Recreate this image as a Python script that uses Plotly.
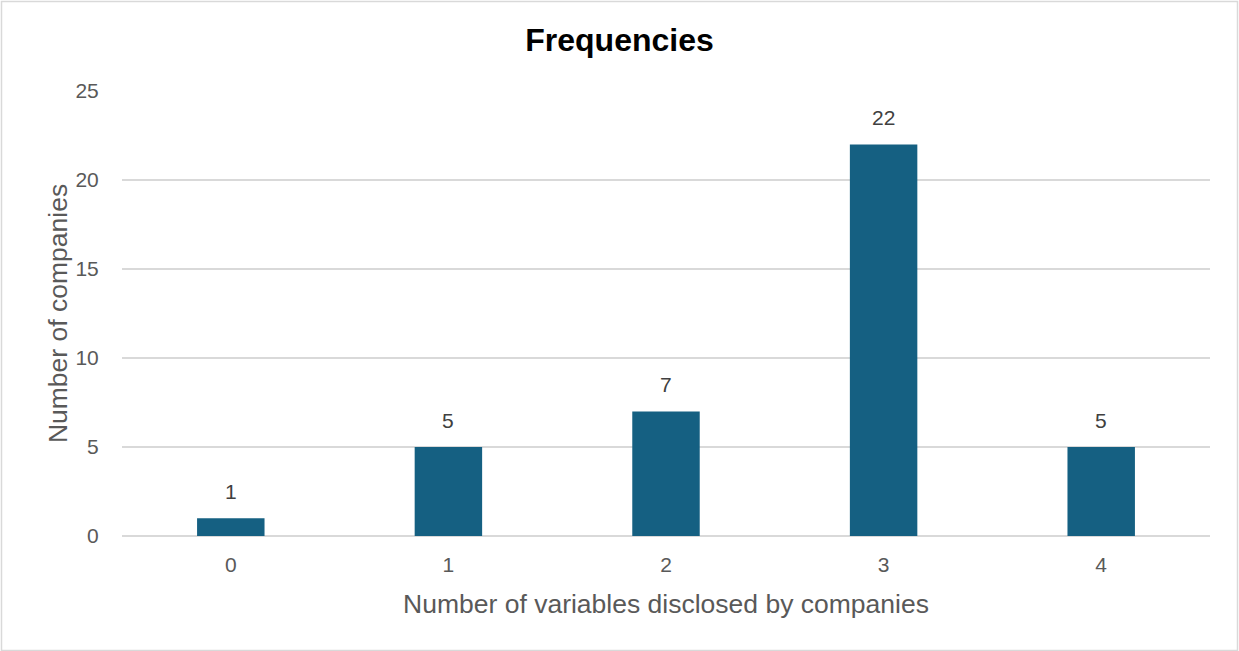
import plotly.graph_objects as go

categories = ["0", "1", "2", "3", "4"]
counts = [1, 5, 7, 22, 5]
y_ticks = [0, 5, 10, 15, 20, 25]

W, H = 1239, 651
ML, MR, MT, MB = 122, 29, 91, 115

fig = go.Figure()
fig.add_trace(go.Bar(
    x=categories, y=counts, width=0.31,
    marker=dict(color="#156082", line=dict(width=0)),
    hoverinfo="x+y",
))

for c, v in zip(categories, counts):
    fig.add_annotation(x=c, y=v, text=str(v), showarrow=False,
                       yanchor="bottom", yshift=13,
                       font=dict(family="Liberation Sans, Arial", size=21, color="#404040"))

pw, ph = W - ML - MR, H - MT - MB
fig.add_shape(type="rect", xref="paper", yref="paper",
              x0=(1.5 - ML) / pw, x1=(W - 1.5 - ML) / pw,
              y0=-(MB - 0.5) / ph, y1=1 + (MT - 1.5) / ph,
              line=dict(color="#D9D9D9", width=1.5), fillcolor="rgba(0,0,0,0)", layer="below")

fig.update_layout(
    width=W, height=H,
    margin=dict(l=ML, r=MR, t=MT, b=MB, pad=0),
    paper_bgcolor="white", plot_bgcolor="white",
    font=dict(family="Liberation Sans, Arial", color="#595959"),
    title=dict(text="<b>Frequencies</b>", x=0.5, xanchor="center", y=1 - 40 / H, yanchor="middle",
               font=dict(size=32, color="#000000", family="Liberation Sans, Arial")),
    showlegend=False,
    xaxis=dict(
        type="category", range=[-0.5, 4.5],
        showgrid=False, showline=False, zeroline=False,
        ticks="outside", ticklen=10, tickcolor="rgba(0,0,0,0)",
        tickfont=dict(size=21, color="#595959"),
        title=dict(text="Number of variables disclosed by companies", standoff=19,
                   font=dict(size=26.5, color="#595959")),
    ),
    yaxis=dict(
        range=[0, 25], tickvals=y_ticks,
        showgrid=True, gridcolor="#D9D9D9", gridwidth=1.5,
        zeroline=True, zerolinecolor="#D9D9D9", zerolinewidth=1.5,
        showline=False,
        ticks="outside", ticklen=18, tickcolor="rgba(0,0,0,0)",
        tickfont=dict(size=21, color="#595959"),
        title=dict(text="Number of companies", standoff=0,
                   font=dict(size=26.5, color="#595959")),
    ),
)

fig.write_html("out.html")
